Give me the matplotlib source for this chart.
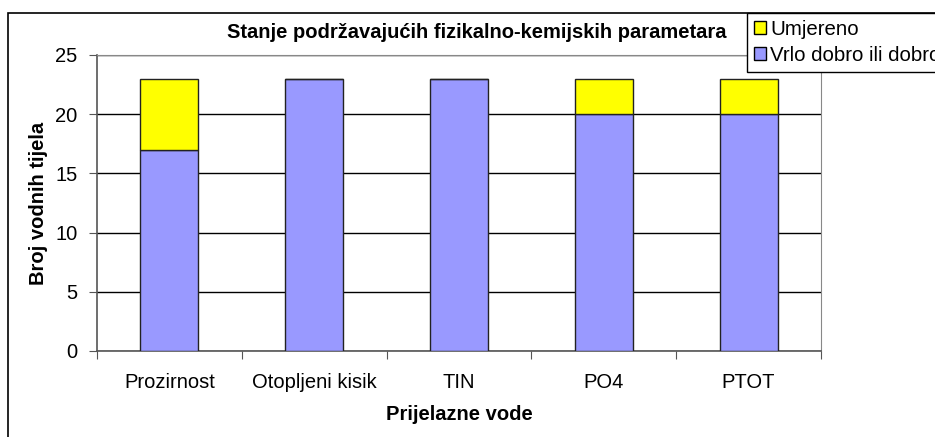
import matplotlib
matplotlib.use("Agg")
import matplotlib.pyplot as plt
from matplotlib.patches import Rectangle, Patch
import numpy as np

categories = ["Prozirnost", "Otopljeni kisik", "TIN", "PO4", "PTOT"]
dobro = [17, 23, 23, 20, 20]
umjereno = [6, 0, 0, 3, 3]
yticks = [0, 5, 10, 15, 20, 25]

plt.rcParams['font.family'] = ['Liberation Sans', 'DejaVu Sans']

W, H = 935, 437
fig = plt.figure(figsize=(W / 100, H / 100), dpi=100)

# outer chart border
fig.patches.append(Rectangle((8 / W, -0.05), 1.2, (H - 13) / H + 0.05,
                             transform=fig.transFigure, fill=False,
                             edgecolor='black', linewidth=1.2, zorder=0))

left, right, top, bottom = 97, 821, 55, 351
ax = fig.add_axes([left / W, 1 - bottom / H, (right - left) / W, (bottom - top) / H])

x = np.arange(len(categories))
bw = 0.4
ax.bar(x, dobro, width=bw, color='#9999ff', edgecolor='#222222', linewidth=1, zorder=3,
       label='Vrlo dobro ili dobro')
ax.bar(x, umjereno, width=bw, bottom=dobro, color='#ffff00', edgecolor='#222222',
       linewidth=1, zorder=3, label='Umjereno')

ax.set_xlim(-0.5, len(categories) - 0.5)
ax.set_ylim(0, 25)
ax.set_yticks(yticks)
ax.set_yticklabels([str(v) for v in yticks], fontsize=14.5)
ax.yaxis.grid(True, color='black', linewidth=1, zorder=0)
ax.set_xticks(np.arange(len(categories) + 1) - 0.5, minor=False)
ax.set_xticklabels([])
ax.set_xticks(x, minor=True)
ax.set_xticklabels(categories, minor=True, fontsize=14.5)
ax.tick_params(axis='x', which='minor', length=0, pad=16)
ax.tick_params(axis='x', which='major', length=6, color='#555555', direction='out')
ax.tick_params(axis='y', length=6, color='#555555', direction='out', pad=8)

for s in ['top', 'right']:
    ax.spines[s].set_color('#888888')
for s in ['left', 'bottom']:
    ax.spines[s].set_color('#555555')
    ax.spines[s].set_linewidth(1.2)

ax.set_xlabel('Prijelazne vode', fontsize=14.5, fontweight='bold', labelpad=9)
ax.set_ylabel('Broj vodnih tijela', fontsize=14.5, fontweight='bold', labelpad=5)

fig.text(477 / W, 1 - 33 / H, 'Stanje podržavajućih fizikalno-kemijskih parametara',
         ha='center', va='center', fontsize=14.5, fontweight='bold')

handles = [Patch(facecolor='#ffff00', edgecolor='black', label='Umjereno'),
           Patch(facecolor='#9999ff', edgecolor='black', label='Vrlo dobro ili dobro')]
leg = fig.legend(handles=handles, loc='upper left',
                 bbox_to_anchor=(747 / W, 1 - 13 / H), fontsize=14.7,
                 frameon=True, fancybox=False, edgecolor='black', framealpha=1,
                 handlelength=0.6, handleheight=0.6, handletextpad=0.2,
                 borderpad=0.35, labelspacing=0.34, borderaxespad=0)
leg.get_frame().set_linewidth(1)

fig.savefig('out.png', dpi=100)
